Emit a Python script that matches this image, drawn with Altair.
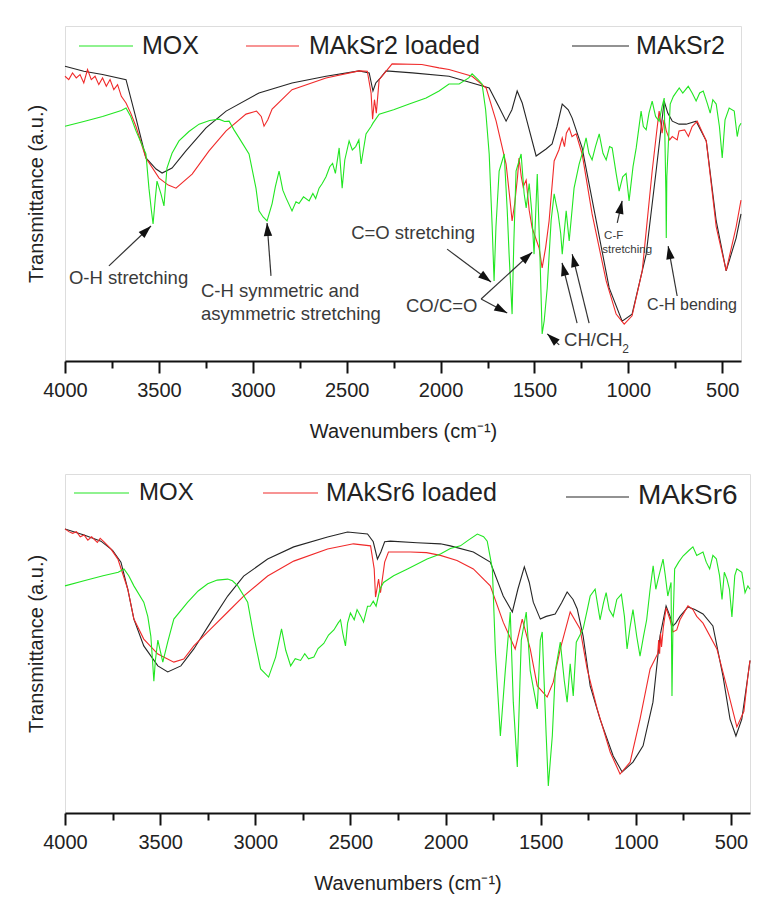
import math
import altair as alt
import pandas as pd

# ---------------- data (arbitrary transmittance units 0-100) -------------
# Top panel
t_black_wn = [4000, 3900, 3800, 3675, 3622, 3569, 3515, 3483, 3430, 3356, 3249, 3142, 2967, 2791,
              2610, 2434, 2380, 2360, 2345, 2320, 2290, 2150, 1955, 1832, 1741, 1690, 1651, 1620,
              1592, 1565, 1544, 1491, 1438, 1406, 1380, 1352, 1320, 1299, 1246, 1171, 1102, 1033,
              980, 905, 852, 809, 790, 766, 730, 692, 639, 585, 532, 479, 426, 400]
t_black_v = [88, 86.5, 85.5, 84, 72.5, 60.6, 57.3, 56.1, 57.6, 62.7, 69.6, 74.6, 80, 83,
             85, 86.6, 86, 80.6, 83, 84.5, 86.6, 86, 85, 83, 81.5, 76, 71.6, 75,
             80.6, 77, 72.5, 61.2, 63.3, 64.8, 70, 76.7, 75, 72.5, 63.6, 41.8, 21.8, 11.9,
             14, 31.9, 56.7, 77.6, 74, 71.6, 70.7, 70.7, 71.6, 65.7, 41.8, 26.9, 36.7, 43.9]

t_red_wn = [4000, 3980, 3960, 3940, 3920, 3900, 3880, 3860, 3840, 3820, 3800, 3780, 3760, 3740,
            3720, 3700, 3675, 3650, 3622, 3569, 3499, 3450, 3409, 3323, 3233, 3142, 3036, 2980,
            2955, 2940, 2920, 2897, 2791, 2610, 2434, 2390, 2370, 2362, 2352, 2342, 2327, 2258,
            2100, 2008, 1955, 1832, 1757, 1704, 1651, 1630, 1619, 1605, 1590, 1582, 1570, 1560,
            1544, 1528, 1512, 1475, 1459, 1440, 1422, 1395, 1370, 1352, 1340, 1330, 1315, 1300,
            1278, 1246, 1193, 1118, 1065, 1022, 980, 926, 873, 850, 836, 820, 810, 798, 780, 766,
            740, 730, 700, 680, 660, 633, 585, 532, 479, 426, 400]
t_red_v = [85, 84, 86, 84.5, 85.5, 83, 87, 84, 85, 82.5, 84.5, 82, 84, 81,
           82.5, 79, 77, 74, 70, 60.6, 54.6, 52.5, 51.6, 55.8, 62.7, 68.7, 73.7, 74.6,
           73, 70.1, 72, 75.2, 81, 84.5, 86.6, 86.5, 80, 72.2, 78, 74, 84, 88.7,
           88.5, 87.5, 87, 85, 81.5, 71.6, 58.8, 48, 41.8, 47, 55, 60.6, 55, 52,
           54, 45, 39.7, 33.7, 27.8, 34, 41.8, 59.7, 63, 66.6, 64, 68, 69.6, 67,
           67.8, 61.8, 43.9, 23.9, 14, 11, 13.5, 26.9, 56.7, 68, 74.6, 68, 72, 68.7, 66, 67,
           66, 68.7, 69, 67, 70, 71.6, 65.7, 40, 27, 40, 48]

t_green_wn = [4000, 3900, 3800, 3700, 3675, 3650, 3622, 3569, 3553, 3540, 3531, 3520, 3510, 3489,
              3473, 3457, 3430, 3393, 3340, 3286, 3230, 3180, 3150, 3126, 3100, 3073, 3020, 2983,
              2967, 2945, 2924, 2897, 2880, 2860, 2840, 2823, 2791, 2770, 2754, 2730, 2700, 2680,
              2665, 2647, 2630, 2610, 2590, 2575, 2560, 2540, 2530, 2524, 2510, 2487, 2470, 2452,
              2435, 2423, 2397, 2370, 2360, 2327, 2250, 2167, 2077, 2008, 1955, 1901, 1850, 1832,
              1800, 1779, 1760, 1741, 1725, 1715, 1705, 1688, 1661, 1645, 1635, 1619, 1610, 1598,
              1571, 1555, 1544, 1528, 1515, 1502, 1485, 1470, 1459, 1448, 1432, 1411, 1395, 1385,
              1374, 1360, 1352, 1331, 1315, 1289, 1262, 1240, 1225, 1210, 1193, 1175, 1155, 1135,
              1118, 1100, 1086, 1065, 1049, 1030, 1012, 996, 975, 958, 932, 920, 905, 890, 873,
              855, 836, 820, 809, 800, 798, 795, 777, 760, 729, 710, 681, 660, 639, 620, 601, 580,
              564, 550, 532, 515, 500, 485, 463, 436, 420, 410, 400]
t_green_v = [70.1, 71.5, 73, 74.8, 75.5, 73, 68.7, 61.8, 51.6, 45, 40.9, 48, 53.7, 49.9,
             46.3, 57.6, 62, 65.7, 68.5, 70.7, 71.8, 72.2, 71.5, 71.6, 69, 66.6, 61.8, 51.6,
             44.8, 43, 41.8, 47, 52, 56.7, 51, 48.7, 44.8, 47.5, 47, 49, 47.8, 50,
             48.5, 51.6, 53, 55, 58, 59, 56, 63.6, 56, 51.6, 60, 65.7, 63, 64,
             66, 58.8, 67.8, 70, 71, 73.7, 75, 76.7, 78.5, 80.6, 82.7, 82.7, 84.5, 85.7,
             84, 82.7, 75, 61.8, 40, 23.9, 40, 56.7, 61.8, 45, 31.9, 14, 35, 56.7,
             61.8, 50, 45.7, 53, 45, 31.9, 55.8, 30, 8.1, 12, 21.8, 42, 49.9, 47,
             44, 38, 31.9, 44.8, 35.8, 51.6, 58.8, 63, 66.6, 62, 60, 64, 67.8, 62,
             60, 64, 63.6, 56, 50.7, 55, 56, 47.8, 58, 63.6, 74.6, 70, 69, 74, 77.6,
             73, 71.6, 76, 78.5, 50, 36.7, 55, 76.7, 79, 81.5, 80, 82, 80, 77.6, 80, 80.6, 77,
             74, 78, 76.7, 70, 60.6, 72, 75.5, 74.6, 67, 70, 71]

# Bottom panel
b_black_wn = [4000, 3900, 3811, 3750, 3706, 3670, 3638, 3586, 3512, 3460, 3391, 3323, 3234, 3145,
              3061, 2935, 2798, 2620, 2515, 2410, 2380, 2358, 2340, 2320, 2290, 2150, 2027, 1975,
              1854, 1765, 1697, 1649, 1620, 1586, 1560, 1539, 1502, 1471, 1424, 1390, 1361, 1330,
              1308, 1277, 1240, 1188, 1119, 1072, 1015, 962, 910, 873, 841, 820, 805, 790, 768,
              726, 690, 647, 595, 542, 505, 474, 443, 411, 400]
b_black_v = [83.8, 82, 80.2, 77.5, 74, 66, 57.2, 49.3, 43.4, 41.6, 43.4, 48.4, 56.3, 64,
             69.9, 74.9, 78.5, 81.4, 82.9, 82.3, 80, 74.9, 77, 80, 80.2, 79.7, 79.4, 78.8,
             77, 74, 64, 59.3, 66, 72.6, 68, 62.2, 57.2, 58, 58.7, 62, 65.2, 63,
             60.2, 52.2, 37.5, 27.7, 16.8, 12.1, 15, 19.8, 32.7, 52.2, 61.1, 58, 55.2, 56, 58,
             60.8, 60, 58.7, 55.2, 40.4, 27.7, 22.7, 27.7, 40.4, 45]

b_red_wn = [4000, 3980, 3960, 3940, 3920, 3900, 3880, 3860, 3848, 3830, 3815, 3795, 3760, 3722,
            3670, 3638, 3586, 3512, 3428, 3376, 3323, 3234, 3150, 3061, 2935, 2798, 2620, 2484,
            2394, 2375, 2368, 2358, 2352, 2342, 2320, 2300, 2185, 2100, 2027, 1940, 1854, 1765,
            1697, 1634, 1597, 1555, 1518, 1466, 1434, 1397, 1345, 1293, 1256, 1203, 1135, 1083,
            1030, 978, 925, 885, 880, 875, 870, 865, 855, 841, 820, 805, 785, 768, 726, 700, 680,
            647, 574, 521, 469, 432, 411, 400]
b_red_v = [83.8, 83, 82.5, 83, 81.5, 82, 80.5, 81.5, 80.8, 79.8, 81, 80, 78, 74.9,
           66, 57.2, 51.3, 46.9, 44.5, 45.4, 49.3, 54.3, 59, 64, 69.9, 74.3, 77.9, 79.4,
           78.8, 72, 63.7, 67, 69, 65, 74, 77, 77, 76.8, 76, 74.5, 72, 67,
           56.3, 48.4, 57.2, 48.4, 37.5, 34.2, 38.6, 48.4, 59.3, 54.3, 42.5, 30.7, 18, 11.5,
           15, 27.7, 42.5, 47, 51, 47, 53, 49, 55, 60.5, 57, 53.4, 54, 57, 61.1, 60, 58,
           56, 48.4, 37, 25.4, 30, 40.4, 45]

b_green_wn = [4000, 3900, 3800, 3720, 3690, 3665, 3638, 3586, 3565, 3549, 3540, 3533, 3525, 3512,
              3486, 3460, 3428, 3355, 3300, 3250, 3200, 3145, 3120, 3092, 3040, 3008, 2972, 2930,
              2893, 2862, 2840, 2814, 2790, 2762, 2740, 2720, 2692, 2670, 2640, 2615, 2587, 2565,
              2552, 2540, 2526, 2515, 2500, 2480, 2465, 2445, 2431, 2410, 2396, 2380, 2365, 2345,
              2326, 2273, 2200, 2097, 2027, 1975, 1922, 1880, 1833, 1800, 1781, 1754, 1738, 1712,
              1686, 1660, 1644, 1623, 1602, 1576, 1555, 1539, 1518, 1502, 1492, 1471, 1460, 1439,
              1423, 1397, 1376, 1361, 1345, 1329, 1313, 1277, 1255, 1240, 1214, 1188, 1170, 1156,
              1140, 1119, 1100, 1076, 1060, 1046, 1030, 1015, 995, 978, 960, 943, 925, 909, 895,
              883, 857, 845, 832, 815, 810, 805, 796, 775, 752, 720, 700, 680, 647, 630, 612, 595,
              577, 560, 547, 535, 521, 508, 495, 480, 469, 443, 426, 411, 400]
b_green_v = [67, 68.5, 70, 71, 72, 70, 67, 62.2, 58, 52.2, 45, 38.9, 45, 51,
             44.5, 50.5, 57.2, 62.2, 65.5, 67.6, 68.7, 69, 68.5, 67, 62.2, 52.2, 42.5, 40.1,
             46, 54.3, 48, 43.4, 45.5, 45, 47, 45.5, 46, 48.5, 50, 52.5, 54, 56,
             57, 53, 49.3, 56, 59, 57, 60, 58, 56.3, 61, 61, 62.5, 61, 66,
             68, 70, 72, 74.9, 76.4, 78, 78.8, 80.5, 82.3, 81.5, 80.2, 72, 47.5, 22.7,
             42, 59.3, 32.7, 13.6, 51, 59.3, 42, 37, 30.7, 51, 53.4, 22.7, 8, 22.7,
             42, 50.4, 39, 32.7, 44, 34.5, 50.4, 54.3, 60, 64, 66, 57, 62, 65,
             60, 58, 63, 64.5, 58, 48.4, 55, 60, 52, 46.3, 52, 57, 66, 72.9, 66,
             69, 74.9, 70, 64, 68, 34.5, 55, 72, 74, 75.8, 77.5, 78.5, 76, 77, 74, 72, 76,
             75, 70, 63, 71, 69, 66, 57.8, 70, 72, 71, 65, 67, 66]

# Annotations (top panel)
ann_text = ["O-H stretching", "C-H symmetric and", "asymmetric stretching", "C=O stretching",
            "CO/C=O", "CH/CH"]
ann_wn = [3979, 3276, 3276, 2476, 2184, 1342]
ann_v = [24.8, 20.9, 14.0, 38.2, 16.4, 6.3]
sub_text = ["2"]
sub_wn = [1033]
sub_v = [3.6]
small_text = ["C-F", "stretching"]
small_wn = [1129, 1139]
small_v = [37.3, 33.1]
bend_text = ["C-H bending"]
bend_wn = [900]
bend_v = [16.7]

arrow_tail_wn = [3766, 2903, 1965, 1784, 1784, 1368, 1273, 1209, 1059, 740]
arrow_tail_v = [28.4, 25.4, 33.4, 18.5, 18.5, 4.8, 11.3, 11.3, 41.2, 19.4]
arrow_tip_wn = [3542, 2924, 1731, 1512, 1645, 1432, 1353, 1299, 1033, 788]
arrow_tip_v = [40.3, 41.2, 23.6, 32.5, 14.3, 8.1, 29.3, 31.9, 47.8, 34.3]

# ---------------- styling ---------------------------------------------------------------------
W1, H1 = 676, 335
W2, H2 = 685, 339
FONT = "Liberation Sans"
GREEN, RED, BLACK = "#22e622", "#f02a2a", "#262626"
TXT = "#222222"
ANN = "#3a3a3a"

xscale = alt.Scale(domain=[4000, 400], nice=False, zero=False)
yscale = alt.Scale(domain=[0, 100], nice=False, zero=False)

xaxis = alt.Axis(
    values=list(range(4000, 399, -250)),
    format="d",
    labelExpr="datum.value % 500 === 0 ? datum.label : ''",
    tickSize={"condition": {"test": "datum.value % 500 === 0", "value": 12}, "value": 7},
    tickWidth=2, tickColor="#111", domainColor="#111", domainWidth=2,
    labelFontSize=20, labelColor=TXT, labelFont=FONT, labelPadding=7,
    title="Wavenumbers (cm⁻¹)", titleFontSize=20, titleFont=FONT, titleColor=TXT,
    titleFontWeight="normal", titlePadding=21, grid=False, labelFlush=False,
)
yaxis = alt.Axis(
    labels=False, ticks=False, domain=False, grid=False,
    title="Transmittance (a.u.)", titleFontSize=20, titleFont=FONT, titleColor=TXT,
    titleFontWeight="normal", titlePadding=19,
)


def line(wn, v, color):
    df = pd.DataFrame({"wn": wn, "val": v})
    return alt.Chart(df).mark_line(color=color, strokeWidth=1.1).encode(
        x=alt.X("wn:Q", scale=xscale, axis=xaxis),
        y=alt.Y("val:Q", scale=yscale, axis=yaxis),
    )


def texts(labels, wn, v, size, color=ANN):
    df = pd.DataFrame({"label": labels, "wn": wn, "val": v})
    return alt.Chart(df).mark_text(align="left", baseline="middle", font=FONT,
                                   fontSize=size, color=color).encode(
        x=alt.X("wn:Q", scale=xscale, axis=xaxis),
        y=alt.Y("val:Q", scale=yscale, axis=yaxis),
        text="label:N",
    )


def legend(items):
    layers = []
    for (x1, x2, y, color, label, tx, ty, size) in items:
        layers.append(alt.Chart().mark_rule(color=color, strokeWidth=1.2).encode(
            x=alt.value(x1), x2=alt.value(x2), y=alt.value(y)))
        layers.append(alt.Chart().mark_text(align="left", baseline="middle", font=FONT,
                                            fontSize=size, color=TXT).encode(
            x=alt.value(tx), y=alt.value(ty), text=alt.value(label)))
    return layers


# arrows (top panel)
px_wn = W1 / 3600.0
px_v = H1 / 100.0
angles = []
for a, b, c, d in zip(arrow_tail_wn, arrow_tail_v, arrow_tip_wn, arrow_tip_v):
    dx = -(c - a) * px_wn
    dy = -(d - b) * px_v
    angles.append(math.degrees(math.atan2(dx, -dy)) % 360)
arrows_df = pd.DataFrame({"wn": arrow_tail_wn, "val": arrow_tail_v,
                          "wn2": arrow_tip_wn, "val2": arrow_tip_v, "ang": angles})

arrow_lines = alt.Chart(arrows_df).mark_rule(color="#333", strokeWidth=1.2).encode(
    x=alt.X("wn:Q", scale=xscale, axis=xaxis), y=alt.Y("val:Q", scale=yscale, axis=yaxis),
    x2="wn2:Q", y2="val2:Q")
arrow_heads = alt.Chart(arrows_df).mark_point(
    shape="M0,0L-0.42,1.3L0.42,1.3Z", filled=True, size=400, color="#111", opacity=1,
    strokeWidth=0).encode(
    x=alt.X("wn2:Q", scale=xscale, axis=xaxis), y=alt.Y("val2:Q", scale=yscale, axis=yaxis),
    angle=alt.Angle("ang:Q", scale=None))

top_legend = legend([
    (14, 68, 20, GREEN, "MOX", 77, 20, 25),
    (181, 234, 20, RED, "MAkSr2 loaded", 244, 20, 25),
    (507, 564, 20, BLACK, "MAkSr2", 571, 20, 25),
])
bottom_legend = legend([
    (9, 64, 19, GREEN, "MOX", 74, 19, 24),
    (198, 253, 19, RED, "MAkSr6 loaded", 261, 19, 25),
    (501, 564, 23, BLACK, "MAkSr6", 573, 22, 28),
])

top = alt.layer(
    line(t_black_wn, t_black_v, BLACK),
    line(t_red_wn, t_red_v, RED),
    line(t_green_wn, t_green_v, GREEN),
    arrow_lines, arrow_heads,
    texts(ann_text, ann_wn, ann_v, 18.5),
    texts(sub_text, sub_wn, sub_v, 12),
    texts(small_text, small_wn, small_v, 11.5),
    texts(bend_text, bend_wn, bend_v, 16),
    *top_legend,
).properties(width=W1, height=H1)

bottom = alt.layer(
    line(b_black_wn, b_black_v, BLACK),
    line(b_red_wn, b_red_v, RED),
    line(b_green_wn, b_green_v, GREEN),
    *bottom_legend,
).properties(width=W2, height=H2)

chart = alt.vconcat(top, bottom, spacing=31).properties(
    padding={"left": 17, "top": 17, "right": 5, "bottom": 5}
).configure_view(stroke="#111", strokeWidth=1.6).configure(background="white")

chart.save("out.html", embed_options={"renderer": "svg", "actions": False})
